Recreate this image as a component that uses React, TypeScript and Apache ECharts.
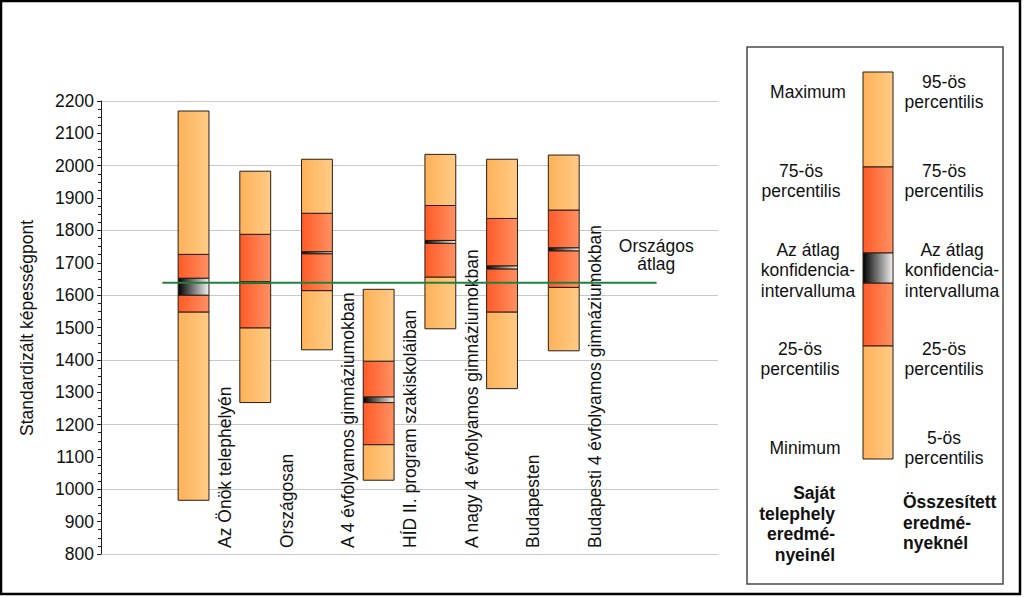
import React, { useEffect, useRef } from "react";
import * as echarts from "echarts";

const categories = [
  "Az Önök telephelyén",
  "Országosan",
  "A 4 évfolyamos gimnáziumokban",
  "HÍD II. program szakiskoláiban",
  "A nagy 4 évfolyamos gimnáziumokban",
  "Budapesten",
  "Budapesti 4 évfolyamos gimnáziumokban",
];
const minValues = [966, 1268, 1431, 1028, 1496, 1311, 1428];
const p25Values = [1548, 1499, 1614, 1138, 1656, 1548, 1624];
const ciLowValues = [1600, 1636, 1728, 1268, 1760, 1681, 1737];
const ciHighValues = [1652, 1642, 1734, 1285, 1769, 1690, 1746];
const p75Values = [1726, 1788, 1853, 1396, 1877, 1837, 1863];
const maxValues = [2169, 1983, 2020, 1618, 2035, 2020, 2033];
const nationalMean = 1638;
const nationalLabel = "Országos\nátlag";
const yTitle = "Standardizált képességpont";

const FONT = '"Liberation Sans", Arial, sans-serif';
const FS = 17.5;
const TXT = "#111";

const lightGrad = () =>
  new echarts.graphic.LinearGradient(0, 0, 1, 0, [
    { offset: 0, color: "#FFB159" },
    { offset: 1, color: "#FFCB86" },
  ]);
const redGrad = () =>
  new echarts.graphic.LinearGradient(0, 0, 1, 0, [
    { offset: 0, color: "#FF5A26" },
    { offset: 1, color: "#FF9163" },
  ]);
const ciGrad = () =>
  new echarts.graphic.LinearGradient(0, 0, 1, 0, [
    { offset: 0, color: "#000000" },
    { offset: 1, color: "#F2F2F2" },
  ]);

export default function App() {
  const ref = useRef<HTMLDivElement>(null);

  useEffect(() => {
    if (!ref.current) return;
    const chart = echarts.init(ref.current, undefined, { renderer: "svg" });

    const data = categories.map((_, i) => [
      i,
      minValues[i],
      p25Values[i],
      ciLowValues[i],
      ciHighValues[i],
      p75Values[i],
      maxValues[i],
    ]);

    const renderItem = (params: any, api: any) => {
      const i = api.value(0);
      const vMin = api.value(1);
      const v25 = api.value(2);
      const vLo = api.value(3);
      const vHi = api.value(4);
      const v75 = api.value(5);
      const vMax = api.value(6);
      const cx = api.coord([i, 0])[0];
      const w = api.size([1, 0])[0] * 0.5;
      const y = (v: number) => api.coord([i, v])[1];
      const rect = (lo: number, hi: number, fill: any) => ({
        type: "rect",
        shape: { x: cx - w / 2, y: y(hi), width: w, height: y(lo) - y(hi) },
        style: { fill, stroke: "#2b1d12", lineWidth: 1 },
      });
      const bottomY = api.coord([i, 800])[1];
      return {
        type: "group",
        children: [
          rect(vMin, v25, lightGrad()),
          rect(v25, vLo, redGrad()),
          rect(vHi, v75, redGrad()),
          rect(v75, vMax, lightGrad()),
          rect(vLo, vHi, ciGrad()),
          {
            type: "text",
            x: cx + w + 0.5,
            y: bottomY - 6,
            rotation: Math.PI / 2,
            style: {
              text: categories[i],
              fontSize: FS,
              fontFamily: FONT,
              fill: TXT,
              align: "left",
              verticalAlign: "middle",
            },
          },
        ],
      };
    };

    const t = (
      text: string,
      x: number,
      y: number,
      align = "center",
      bold = false
    ) => ({
      type: "text",
      x,
      y,
      z: 10,
      style: {
        text,
        fontSize: FS,
        fontFamily: FONT,
        fontWeight: bold ? "bold" : "normal",
        fill: TXT,
        align,
        verticalAlign: "middle",
        lineHeight: 20.5,
      },
    });

    const legRect = (y0: number, y1: number, fill: any) => ({
      type: "rect",
      z: 10,
      shape: { x: 863, y: y0, width: 30, height: y1 - y0 },
      style: { fill, stroke: "#2b1d12", lineWidth: 1 },
    });

    chart.setOption({
      animation: false,
      backgroundColor: "#fff",
      grid: { left: 101, top: 101, width: 617, height: 453 },
      xAxis: { type: "value", min: -1.5, max: 8.5, show: false },
      yAxis: [
        {
          type: "value",
          min: 800,
          max: 2200,
          interval: 100,
          axisLine: { show: true, onZero: false, lineStyle: { color: "#222", width: 1 } },
          axisTick: { show: true, length: 4, lineStyle: { color: "#222" } },
          minorTick: { show: true, splitNumber: 4, length: 3, lineStyle: { color: "#222" } },
          axisLabel: {
            fontSize: FS,
            fontFamily: FONT,
            color: TXT,
            margin: 7,
            formatter: (v: number) => String(v),
          },
          splitLine: { show: false },
        },
        {
          type: "value",
          min: 800,
          max: 2200,
          interval: 200,
          position: "left",
          axisLine: { show: false, onZero: false },
          axisTick: { show: false },
          axisLabel: { show: false },
          splitLine: { show: true, lineStyle: { color: "#c8c8c8", width: 1 } },
        },
      ],
      series: [
        {
          type: "custom",
          renderItem,
          data,
          encode: { x: 0, y: [1, 6] },
          z: 2,
        },
        {
          type: "line",
          z: 5,
          data: [
            [-0.5, nationalMean],
            {
              value: [7.5, nationalMean],
              label: {
                show: true,
                position: "top",
                distance: 9,
                formatter: nationalLabel,
                fontSize: FS,
                fontFamily: FONT,
                color: TXT,
                lineHeight: 18,
                align: "center",
              },
            },
          ],
          symbol: "circle",
          symbolSize: 1,
          showSymbol: true,
          itemStyle: { color: "#22803F" },
          lineStyle: { color: "#22803F", width: 2 },
        },
      ],
      graphic: [
        {
          type: "rect",
          z: 0,
          shape: { x: 1, y: 1, width: 1019, height: 593 },
          style: { fill: "none", stroke: "#000", lineWidth: 2.5 },
        },
        {
          type: "text",
          x: 27,
          y: 328,
          rotation: Math.PI / 2,
          style: {
            text: yTitle,
            fontSize: FS,
            fontFamily: FONT,
            fill: TXT,
            align: "center",
            verticalAlign: "middle",
          },
        },
        {
          type: "rect",
          z: 5,
          shape: { x: 747, y: 47, width: 256, height: 537 },
          style: { fill: "#fff", stroke: "#4a4a4a", lineWidth: 1.5 },
        },
        legRect(72, 167, lightGrad()),
        legRect(167, 253, redGrad()),
        legRect(283, 346, redGrad()),
        legRect(346, 459, lightGrad()),
        legRect(253, 283, ciGrad()),
        t("Maximum", 808, 92),
        t("75-ös\npercentilis", 801, 181),
        t("Az átlag\nkonfidencia-\nintervalluma", 808, 270),
        t("25-ös\npercentilis", 800, 359),
        t("Minimum", 805, 448),
        t("Saját\ntelephely\neredmé-\nnyeinél", 835, 524, "right", true),
        t("95-ös\npercentilis", 944, 92),
        t("75-ös\npercentilis", 944, 181),
        t("Az átlag\nkonfidencia-\nintervalluma", 952, 270),
        t("25-ös\npercentilis", 944, 359),
        t("5-ös\npercentilis", 944, 448),
        t("Összesített\neredmé-\nnyeknél", 903, 522.5, "left", true),
      ],
    });

    return () => chart.dispose();
  }, []);

  return (
    <div
      ref={ref}
      style={{
        position: "fixed",
        left: 0,
        top: 0,
        width: 1024,
        height: 597,
        background: "#fff",
      }}
    />
  );
}
